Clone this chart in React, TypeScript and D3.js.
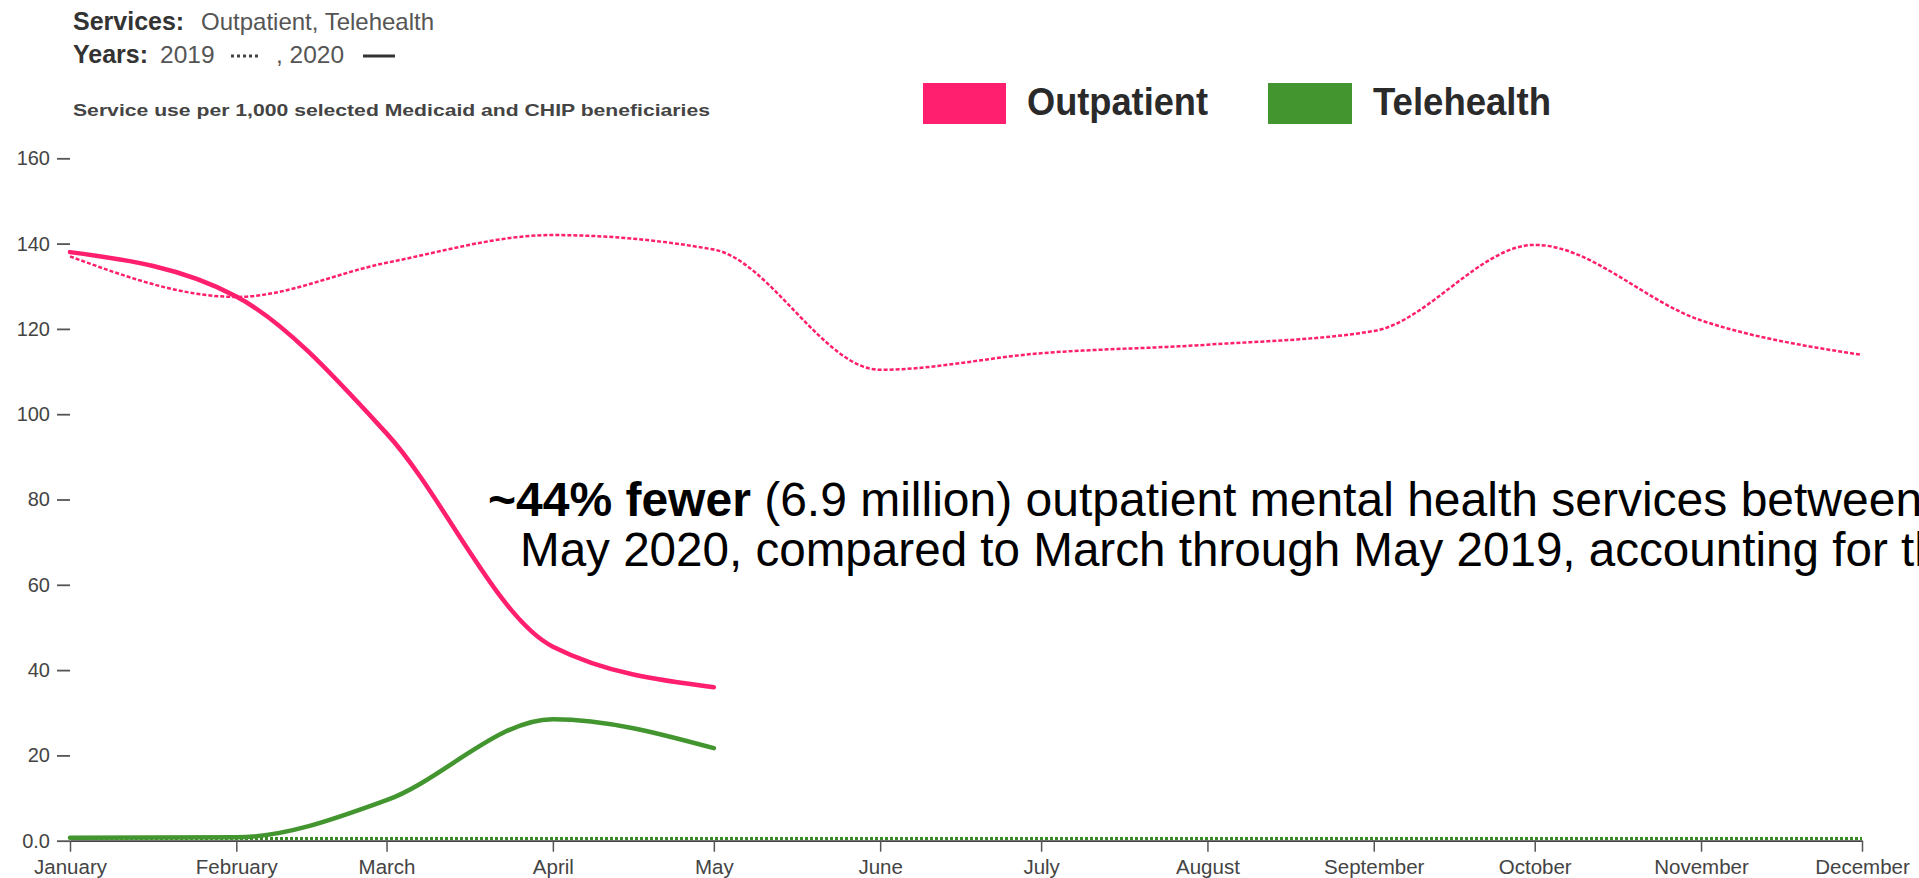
import React, { useEffect, useRef } from "react";
import * as d3 from "d3";

const months = [
  "January", "February", "March", "April", "May", "June",
  "July", "August", "September", "October", "November", "December",
];
const outpatient2019 = [137, 127.5, 135.5, 142, 138.6, 110.4, 114.3, 116.3, 119.5, 139.7, 122, 113.9];
const outpatient2020 = [138, 127.6, 95.5, 45.5, 36];
const telehealth2019 = [0.5, 0.5, 0.5, 0.5, 0.5, 0.5, 0.5, 0.5, 0.5, 0.5, 0.5, 0.5];
const telehealth2020 = [0.7, 0.8, 9.5, 28.5, 21.7];
const yTicks = [0, 20, 40, 60, 80, 100, 120, 140, 160];

const PINK = "#ff1f6e";
const GREEN = "#43962f";

const W = 1919;
const H = 878;

const monthDates = months.map((_, i) => new Date(2019, i, 1));

export default function App() {
  const xAxisRef = useRef<SVGGElement>(null);
  const yAxisRef = useRef<SVGGElement>(null);

  const x = d3.scaleTime().domain([monthDates[0], monthDates[11]]).range([70, 1862]);
  const y = d3.scaleLinear().domain([0, 160]).range([840.7, 158.3]);

  const line = d3
    .line<number>()
    .x((_, i) => x(monthDates[i]))
    .y((d) => y(d))
    .curve(d3.curveMonotoneX);

  useEffect(() => {
    if (xAxisRef.current) {
      const g = d3.select(xAxisRef.current);
      g.selectAll("*").remove();
      g.call(
        d3
          .axisBottom(x)
          .tickValues(monthDates)
          .tickFormat((d) => months[(d as Date).getMonth()])
          .tickSize(11)
          .tickSizeOuter(0)
          .tickPadding(8)
      );
      g.select(".domain").attr("stroke", "#444").attr("stroke-width", 1.8);
      g.selectAll(".tick line").attr("stroke", "#555").attr("stroke-width", 1.5);
      g.selectAll(".tick text")
        .attr("fill", "#444")
        .style("font-family", "'Liberation Sans', Arial, sans-serif")
        .style("font-size", "20.5px");
    }
    if (yAxisRef.current) {
      const g = d3.select(yAxisRef.current);
      g.selectAll("*").remove();
      g.call(
        d3
          .axisLeft(y)
          .tickValues(yTicks)
          .tickFormat((d) => ((d as number) === 0 ? "0.0" : String(d)))
          .tickSize(13)
          .tickPadding(7)
      );
      g.select(".domain").remove();
      g.selectAll(".tick line").attr("stroke", "#555").attr("stroke-width", 1.8);
      g.selectAll(".tick text")
        .attr("fill", "#444")
        .style("font-family", "'Liberation Sans', Arial, sans-serif")
        .style("font-size", "20px");
    }
  }, []);

  const font = "'Liberation Sans', Arial, sans-serif";

  return (
    <div style={{ position: "absolute", left: 0, top: 0, width: W, height: H, overflow: "hidden", background: "#fff" }}>
      <svg width={W} height={H} style={{ display: "block", overflow: "hidden" }} fontFamily={font}>
        {/* header */}
        <text x={73} y={30} fontSize={25} fontWeight="bold" fill="#333">Services:</text>
        <text x={201} y={30} fontSize={24} fill="#555">Outpatient, Telehealth</text>
        <text x={73} y={63} fontSize={25} fontWeight="bold" fill="#333">Years:</text>
        <text x={160} y={63} fontSize={24.5} fill="#555">2019</text>
        <line x1={231} x2={261} y1={56} y2={56} stroke="#444" strokeWidth={3} strokeDasharray="3,3" />
        <text x={276} y={63} fontSize={24.5} fill="#555">, 2020</text>
        <line x1={363} x2={395} y1={56} y2={56} stroke="#333" strokeWidth={3} />
        <text x={73} y={116} fontSize={17} fontWeight="bold" fill="#444" textLength={637} lengthAdjust="spacingAndGlyphs">
          Service use per 1,000 selected Medicaid and CHIP beneficiaries
        </text>

        {/* legend */}
        <rect x={923} y={83} width={83} height={41} fill={PINK} />
        <text x={1027} y={115} fontSize={38} fontWeight="bold" fill="#2a2a2a" textLength={181} lengthAdjust="spacingAndGlyphs">Outpatient</text>
        <rect x={1268} y={83} width={84} height={41} fill={GREEN} />
        <text x={1373} y={115} fontSize={38} fontWeight="bold" fill="#2a2a2a" textLength={178} lengthAdjust="spacingAndGlyphs">Telehealth</text>

        {/* axes */}
        <g ref={yAxisRef} transform="translate(70,0)" />
        <g ref={xAxisRef} transform={`translate(0,${y(0)})`} />

        {/* lines */}
        <path d={line(telehealth2019) || ""} fill="none" stroke="#3a8a28" strokeWidth={3} strokeDasharray="3,2" />
        <path d={line(outpatient2019) || ""} fill="none" stroke={PINK} strokeWidth={2.5} strokeDasharray="4,2" />
        <path d={line(telehealth2020) || ""} fill="none" stroke={GREEN} strokeWidth={4.5} strokeLinecap="round" />
        <path d={line(outpatient2020) || ""} fill="none" stroke={PINK} strokeWidth={4.5} strokeLinecap="round" />

        {/* annotation */}
        <text x={488} y={516} fontSize={48} fill="#000">
          <tspan fontWeight="bold">~44% fewer</tspan>
          <tspan> (6.9 million) outpatient mental health services between</tspan>
        </text>
        <text x={520} y={566} fontSize={47.6} fill="#000">
          May 2020, compared to March through May 2019, accounting for the
        </text>
      </svg>
    </div>
  );
}
